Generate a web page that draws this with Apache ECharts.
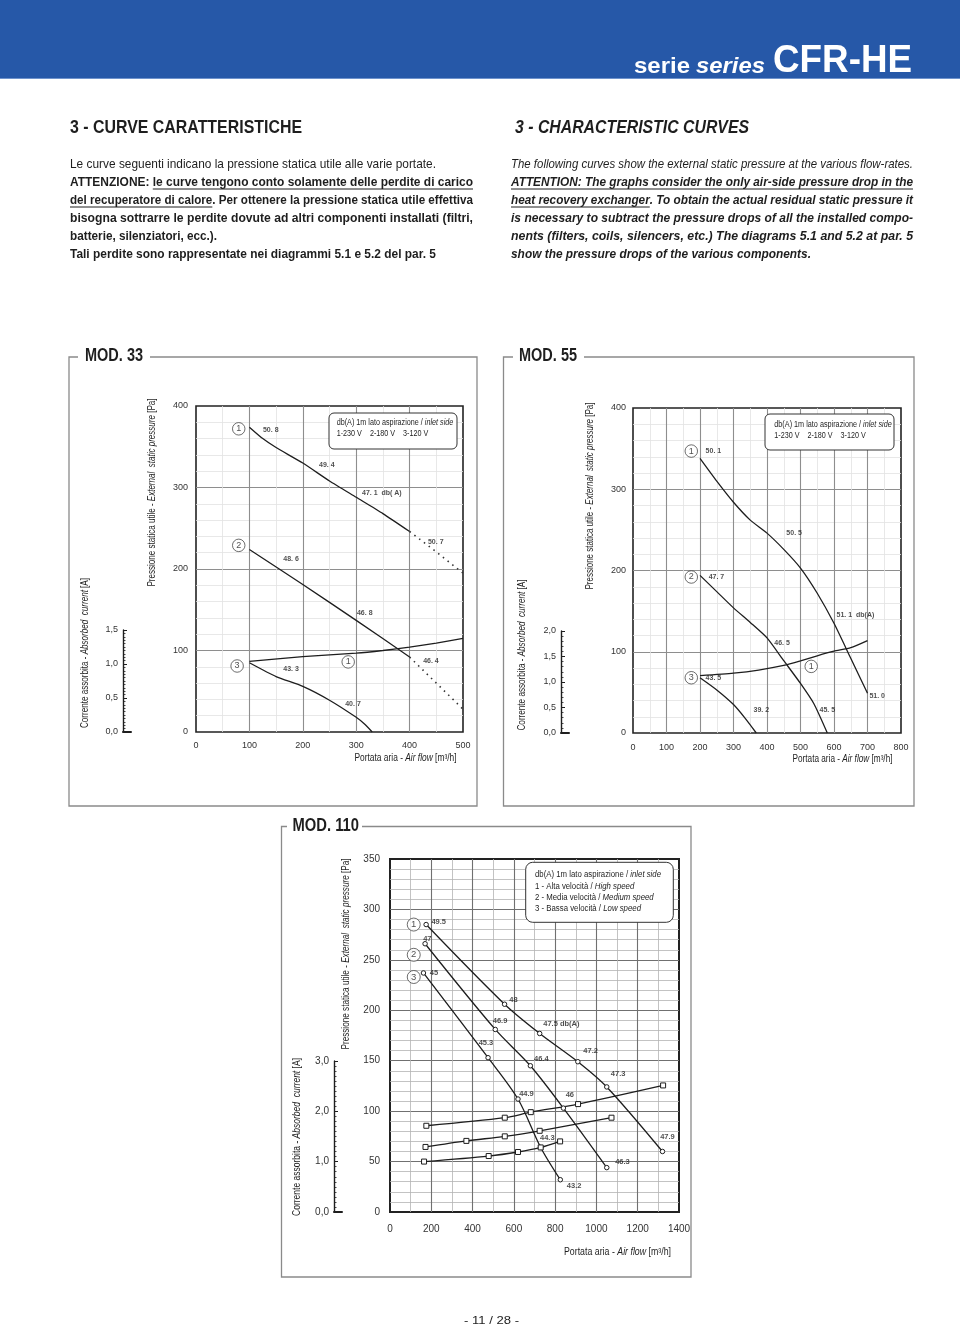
<!DOCTYPE html>
<html><head><meta charset="utf-8">
<script src="https://cdn.jsdelivr.net/npm/echarts@6/dist/echarts.min.js"></script>
<style>html,body{margin:0;padding:0;background:#fff}#c{width:960px;height:1326px}</style>
</head><body><div id="c"></div>
<script>
// ---------------- DATA ----------------
// MOD. 33  (flow m3/h, pressure Pa, current A)
const m33Flow1 = [100,125,150,200,250,300,350,400];
const m33Pres1 = [374,360,349,330,308,288,268,246];
const m33Flow1Ext = [400,450,500];
const m33Pres1Ext = [246,221,195];
const m33Flow2 = [100,200,300,400];
const m33Pres2 = [224,181,137,92];
const m33Flow2Ext = [400,500];
const m33Pres2Ext = [92,28];
const m33Flow3 = [100,150,200,250,300,315,330];
const m33Pres3 = [85,68,56,39,18,10,0];
const m33CurFlow = [100,200,300,350,400,450,500];
const m33CurAmp = [1.04,1.11,1.16,1.20,1.25,1.31,1.38];
const m33Noise = [[140,370,'50. 8'],[245,328,'49. 4'],[348,293,'47. 1  db( A)'],[449,233,'50. 7'],[178,212,'48. 6'],[316,146,'46. 8'],[440,87,'46. 4'],[178,77,'43. 3'],[294,34,'40. 7']];
const m33Tags = [[80,372,'1'],[80,229,'2'],[77,81,'3'],[285,86,'1']];

// MOD. 55
const m55Flow1 = [200,250,300,350,400,450,500,550,600,650,700];
const m55Pres1 = [338,310,284,262,246,226,203,172,135,92,49];
const m55Flow2 = [200,250,300,350,400,450,500,540,580];
const m55Pres2 = [194,174,154,136,117,89,61,36,0];
const m55Flow3 = [200,250,300,335,368];
const m55Pres3 = [68,53,35,18,0];
const m55CurFlow = [200,300,375,450,500,550,600,650,700];
const m55CurAmp = [1.13,1.18,1.24,1.33,1.42,1.52,1.61,1.68,1.82];
const m55Noise = [[240,347,'50. 1'],[481,246,'50. 5'],[249,192,'47. 7'],[664,145,'51. 1  db(A)'],[445,111,'46. 5'],[240,68,'43. 5'],[383,28,'39. 2'],[580,28,'45. 5'],[729,45,'51. 0']];
const m55Tags = [[174,347,'1'],[174,192,'2'],[174,68,'3'],[532,82,'1']];

// MOD. 110
const m110Flow1 = [175,555,725,910,1050,1320];
const m110Pres1 = [285,206,177,149,124,60];
const m110Flow2 = [170,510,680,840,1050];
const m110Pres2 = [266,181,145,103,44];
const m110Flow3 = [162,475,620,730,825];
const m110Pres3 = [237,153,112,64,32];
const m110CurFlow1 = [176,556,682,911,1323];
const m110CurAmp1 = [1.71,1.87,1.98,2.14,2.51];
const m110CurFlow2 = [172,370,556,725,1073];
const m110CurAmp2 = [1.29,1.41,1.50,1.61,1.87];
const m110CurFlow3 = [165,478,620,730,824];
const m110CurAmp3 = [1.00,1.11,1.19,1.28,1.40];
const m110Noise = [[236,288,'49.5'],[181,271,'47'],[213,237,'45'],[598,210,'48'],[533,189,'46.9'],[830,186,'47.5 db(A)'],[465,168,'45.3'],[972,160,'47.2'],[733,152,'46.4'],[1105,137,'47.3'],[661,117,'44.9'],[871,116,'46'],[762,73,'44.3'],[1344,74,'47.9'],[1126,50,'46.3'],[892,26,'43.2']];
const m110Tags = [[115,285,'1'],[115,255,'2'],[115,233,'3']];

// ---------------- HELPERS ----------------
const FF = "'Liberation Sans', Arial, Helvetica, sans-serif";
const INK = '#1e1e1e';
const zip = (xs, ys) => xs.map((x, i) => [x, ys[i]]);
const cv = document.createElement('canvas').getContext('2d');
function fontStr(o){ return (o.fontStyle||'normal')+' '+(o.fontWeight||'normal')+' '+o.fontSize+'px '+FF; }
function mw(t, o){ cv.font = fontStr(o); return cv.measureText(t).width; }
const B = {fontWeight:'bold'}, I = {fontStyle:'italic'}, BI = {fontWeight:'bold', fontStyle:'italic'};
function txt(x, y, segs, base, width, opt){
  opt = opt || {};
  if (typeof segs === 'string') segs = [{t: segs}];
  const rich = {}; let str = ''; let total = 0; const ws = [];
  segs.forEach((sg, i) => {
    const st = Object.assign({}, base, sg.s || {});
    const w = mw(sg.t, st); ws.push(w); total += w;
    rich['s'+i] = {fontSize: st.fontSize, fontFamily: FF, fontWeight: st.fontWeight||'normal', fontStyle: st.fontStyle||'normal', fill: opt.fill||INK};
    str += '{s'+i+'|'+sg.t+'}';
  });
  const sx = width ? width/total : 1;
  const out = [{type:'text', x:x, y:y, rotation: opt.rot||0, scaleX: sx, z:60, silent:true,
    style:{text:str, rich:rich, align: opt.align||'left', verticalAlign:'middle', fill: opt.fill||INK, fontSize: base.fontSize, fontFamily: FF}}];
  let cx = 0;
  segs.forEach((sg, i) => {
    if (sg.u) out.push({type:'line', z:60, silent:true, shape:{x1:x+cx*sx, y1:y+opt.uy, x2:x+(cx+ws[i])*sx, y2:y+opt.uy}, style:{stroke:INK, lineWidth:1}});
    cx += ws[i];
  });
  return out;
}

// ---------------- LAYOUT ----------------
const P33 = {left:196, top:406, width:267, height:326};
const C33 = {left:123, top:630, width:8, height:102};
const P55 = {left:633, top:408, width:268, height:325};
const C55 = {left:561, top:631, width:8, height:102};
const P110 = {left:390, top:859, width:289, height:353};
const C110 = {left:334, top:1061, width:8, height:151};

function gridOf(p, main, bw){ return Object.assign({show: main, borderColor:'#222', borderWidth: bw||1.6, backgroundColor: main ? '#fff' : 'transparent', containLabel:false}, p); }
function mainX(gi, max, interval, minor, fs, margin, maj, mnr){
  return {type:'value', gridIndex:gi, min:0, max:max, interval:interval,
    axisLine:{show:false}, axisTick:{show:false},
    axisLabel:{color:'#333', fontSize:fs, fontFamily:FF, margin:margin, formatter: v => String(v)},
    splitLine:{show:true, showMinLine:false, showMaxLine:false, lineStyle:{color:maj, width:1.1}},
    minorTick:{show:false, splitNumber:minor}, minorSplitLine:{show:true, lineStyle:{color:mnr, width:0.8}}};
}
function mainY(gi, max, interval, minor, fs, margin, maj, mnr){
  const a = mainX(gi, max, interval, minor, fs, margin, maj, mnr); a.position = 'left'; return a;
}
function hidY(gi, max){ return {type:'value', gridIndex:gi, min:0, max:max, show:false, position:'right'}; }
function curX(gi){ return {type:'value', gridIndex:gi, min:0, max:1, axisLine:{show:true, lineStyle:{color:INK, width:2}}, axisTick:{show:false}, axisLabel:{show:false}, splitLine:{show:false}}; }
function curY(gi, max, interval, minor, fs){
  return {type:'value', gridIndex:gi, min:0, max:max, interval:interval,
    axisLine:{show:true, lineStyle:{color:INK, width:1.4}},
    axisTick:{show:true, inside:true, length:4, lineStyle:{color:INK, width:1}},
    minorTick:{show:true, splitNumber:minor, length:2.5, lineStyle:{color:INK, width:0.8}},
    axisLabel:{color:'#333', fontSize:fs, fontFamily:FF, margin:5, formatter: v => v.toFixed(1).replace('.', ',')},
    splitLine:{show:false}};
}
function ln(xi, yi, data, extra){
  return Object.assign({type:'line', xAxisIndex:xi, yAxisIndex:yi, data:data, symbol:'none', smooth:0.2, silent:true, z:3,
    lineStyle:{color:INK, width:1.3}}, extra||{});
}
function dotted(xi, yi, data){ return ln(xi, yi, data, {smooth:false, lineStyle:{color:'#333', width:1.6, type:[1.5,4.5]}}); }
function marked(xi, yi, data, sym, size){
  return ln(xi, yi, data, {smooth:0.3, symbol:sym, symbolSize:size, showSymbol:true, showAllSymbol:true,
    itemStyle:{color:'#fff', borderColor:INK, borderWidth:1}});
}
function notes(xi, yi, arr, fs, bold){
  return {type:'scatter', xAxisIndex:xi, yAxisIndex:yi, silent:true, z:5, symbol:'circle', symbolSize:1,
    itemStyle:{color:'rgba(0,0,0,0)'},
    data: arr.map(n => ({value:[n[0], n[1]], name:n[2]})),
    label:{show:true, position:'inside', formatter:'{b}', fontSize:fs, fontWeight: bold ? 'bold' : 'normal', color:INK, fontFamily:FF}};
}
function tags(xi, yi, arr, size, fs){
  return {type:'scatter', xAxisIndex:xi, yAxisIndex:yi, silent:true, z:6, symbol:'circle', symbolSize:size,
    itemStyle:{color:'#fff', borderColor:'#333', borderWidth:0.9},
    data: arr.map(n => ({value:[n[0], n[1]], name:n[2]})),
    label:{show:true, position:'inside', formatter:'{b}', fontSize:fs, color:INK, fontFamily:FF}};
}

// ---------------- GRAPHIC (page texts, frames) ----------------
const G = [];
G.push({type:'rect', z:1, silent:true, shape:{x:0, y:0, width:960, height:78}, style:{fill:'#2658a8'}});
G.push({type:'line', z:2, silent:true, shape:{x1:0, y1:78.5, x2:960, y2:78.5}, style:{stroke:'#6f93cc', lineWidth:1}});
G.push(...txt(634, 67, [{t:'serie'}], {fontSize:22.5, fontWeight:'bold'}, 56, {fill:'#fff'}));
G.push(...txt(696, 67, [{t:'series'}], {fontSize:22.5, fontWeight:'bold', fontStyle:'italic'}, 69, {fill:'#fff'}));
G.push(...txt(773, 61.5, [{t:'CFR-HE'}], {fontSize:39.5, fontWeight:'bold'}, 139, {fill:'#fff'}));

G.push(...txt(70, 128.5, [{t:'3 - CURVE CARATTERISTICHE'}], {fontSize:17.5, fontWeight:'bold'}, 232));
G.push(...txt(515, 128.5, [{t:'3 - CHARACTERISTIC CURVES'}], {fontSize:17.5, fontWeight:'bold', fontStyle:'italic'}, 234));

const bodyL = {fontSize:13.5};
const UY = 7;
G.push(...txt(70, 164, [{t:'Le curve seguenti indicano la pressione statica utile alle varie portate.'}], bodyL, 366, {uy:UY}));
G.push(...txt(70, 182, [{t:'ATTENZIONE: ', s:B}, {t:'le curve tengono conto solamente delle perdite di carico', s:B, u:true}], bodyL, 403, {uy:UY}));
G.push(...txt(70, 200, [{t:'del recuperatore di calore', s:B, u:true}, {t:'. Per ottenere la pressione statica utile effettiva', s:B}], bodyL, 403, {uy:UY}));
G.push(...txt(70, 218, [{t:'bisogna sottrarre le perdite dovute ad altri componenti installati (filtri,', s:B}], bodyL, 403, {uy:UY}));
G.push(...txt(70, 236, [{t:'batterie, silenziatori, ecc.).', s:B}], bodyL, 147, {uy:UY}));
G.push(...txt(70, 254, [{t:'Tali perdite sono rappresentate nei diagrammi 5.1 e 5.2 del par. 5', s:B}], bodyL, 366, {uy:UY}));

const bodyR = {fontSize:13.5, fontStyle:'italic'};
G.push(...txt(511, 164, [{t:'The following curves show the external static pressure at the various flow-rates.'}], bodyR, 402, {uy:UY}));
G.push(...txt(511, 182, [{t:'ATTENTION: The graphs consider the only air-side pressure drop in the', s:BI, u:true}], bodyR, 402, {uy:UY}));
G.push(...txt(511, 200, [{t:'heat recovery exchanger', s:BI, u:true}, {t:'. To obtain the actual residual static pressure it', s:BI}], bodyR, 402, {uy:UY}));
G.push(...txt(511, 218, [{t:'is necessary to subtract the pressure drops of all the installed compo-', s:BI}], bodyR, 402, {uy:UY}));
G.push(...txt(511, 236, [{t:'nents (filters, coils, silencers, etc.) The diagrams 5.1 and 5.2 at par. 5', s:BI}], bodyR, 402, {uy:UY}));
G.push(...txt(511, 254, [{t:'show the pressure drops of the various components.', s:BI}], bodyR, 300, {uy:UY}));

// panel frames
const FR = {stroke:'#8a8a8a', lineWidth:1.3, fill:null};
G.push({type:'polyline', z:2, silent:true, shape:{points:[[78,357],[69,357],[69,806],[477,806],[477,357],[150,357]]}, style:FR});
G.push({type:'polyline', z:2, silent:true, shape:{points:[[513,357],[503.5,357],[503.5,806],[914,806],[914,357],[584,357]]}, style:FR});
G.push({type:'polyline', z:2, silent:true, shape:{points:[[287,826.5],[281.5,826.5],[281.5,1277],[691,1277],[691,826.5],[362,826.5]]}, style:FR});
G.push(...txt(85, 356.5, [{t:'MOD. 33'}], {fontSize:17.5, fontWeight:'bold'}, 58));
G.push(...txt(519, 356.5, [{t:'MOD. 55'}], {fontSize:17.5, fontWeight:'bold'}, 58));
G.push(...txt(292.5, 826.5, [{t:'MOD. 110'}], {fontSize:17.5, fontWeight:'bold'}, 66.5));

// axis titles
const AX = {fontSize:10};
const presName = [{t:'Pressione statica utile - '}, {t:'External  static pressure', s:I}, {t:' [Pa]'}];
const curName = [{t:'Corrente assorbita - '}, {t:'Absorbed  current', s:I}, {t:' [A]'}];
const flowName = [{t:'Portata aria - '}, {t:'Air flow', s:I}, {t:' [m³/h]'}];
const ROT = {rot:Math.PI/2, align:'center'};
G.push(...txt(152, 492.5, presName, AX, 188, ROT));
G.push(...txt(85, 653, curName, AX, 150, ROT));
G.push(...txt(590, 496, presName, AX, 187, ROT));
G.push(...txt(522.5, 655, curName, AX, 151, ROT));
G.push(...txt(346.5, 954, presName, AX, 191, ROT));
G.push(...txt(297.5, 1137, curName, AX, 158, ROT));
G.push(...txt(405.5, 758, flowName, AX, 102, {align:'center'}));
G.push(...txt(842.5, 759, flowName, AX, 100, {align:'center'}));
G.push(...txt(617.5, 1252.5, flowName, AX, 107, {align:'center'}));

// legend boxes
const LB = {fill:'#fff', stroke:'#333', lineWidth:1};
const LG = {fontSize:8.5};
G.push({type:'rect', z:50, silent:true, shape:{x:329, y:413, width:128, height:36, r:5}, style:LB});
G.push(...txt(336.7, 422.5, [{t:'db(A) 1m lato aspirazione / '}, {t:'inlet side', s:I}], LG, 116.6));
G.push(...txt(336.7, 434, [{t:'1-230 V    2-180 V    3-120 V'}], LG, 91.6));
G.push({type:'rect', z:50, silent:true, shape:{x:765, y:414, width:129, height:36, r:5}, style:LB});
G.push(...txt(774.3, 424.3, [{t:'db(A) 1m lato aspirazione / '}, {t:'inlet side', s:I}], LG, 117.4));
G.push(...txt(774.3, 435.7, [{t:'1-230 V    2-180 V    3-120 V'}], LG, 91.4));
G.push({type:'rect', z:50, silent:true, shape:{x:525.7, y:862.3, width:147.6, height:60, r:7}, style:LB});
G.push(...txt(535, 875, [{t:'db(A) 1m lato aspirazione / '}, {t:'inlet side', s:I}], LG, 126));
G.push(...txt(535, 886.3, [{t:'1 - Alta velocità / '}, {t:'High speed', s:I}], LG, 99.3));
G.push(...txt(535, 897.7, [{t:'2 - Media velocità / '}, {t:'Medium speed', s:I}], LG, 118.7));
G.push(...txt(535, 909, [{t:'3 - Bassa velocità / '}, {t:'Low speed', s:I}], LG, 106));

G.push(...txt(491.5, 1321, [{t:'- 11 / 28 -'}], {fontSize:11}, 55, {align:'center'}));

// ---------------- CHART ----------------
const chart = echarts.init(document.getElementById('c'), null, {renderer:'canvas'});
const MAJ = '#8e8e8e', MNR = '#e2e2e2';
chart.setOption({
  animation:false,
  backgroundColor:'#fff',
  grid:[gridOf(P33, true), gridOf(C33, false), gridOf(P55, true), gridOf(C55, false), gridOf(P110, true, 2), gridOf(C110, false)],
  xAxis:[
    mainX(0, 500, 100, 2, 9, 9.5, MAJ, MNR), curX(1),
    mainX(2, 800, 100, 2, 9, 10.5, MAJ, MNR), curX(3),
    mainX(4, 1400, 200, 2, 10, 12, '#707070', '#b4b4b4'), curX(5)
  ],
  yAxis:[
    mainY(0, 400, 100, 5, 9, 8, MAJ, MNR), hidY(0, 4.8), curY(1, 1.5, 0.5, 10, 9),
    mainY(2, 400, 100, 5, 9, 7, MAJ, MNR), hidY(2, 6.4), curY(3, 2, 0.5, 5, 9),
    mainY(4, 350, 50, 5, 10, 10, '#707070', '#b4b4b4'), hidY(4, 7), curY(5, 3, 1, 10, 10)
  ],
  series:[
    ln(0, 0, zip(m33Flow1, m33Pres1)),
    dotted(0, 0, zip(m33Flow1Ext, m33Pres1Ext)),
    ln(0, 0, zip(m33Flow2, m33Pres2)),
    dotted(0, 0, zip(m33Flow2Ext, m33Pres2Ext)),
    ln(0, 0, zip(m33Flow3, m33Pres3)),
    ln(0, 1, zip(m33CurFlow, m33CurAmp)),
    notes(0, 0, m33Noise, 7, true),
    tags(0, 0, m33Tags, 12.5, 9),

    ln(2, 3, zip(m55Flow1, m55Pres1)),
    ln(2, 3, zip(m55Flow2, m55Pres2)),
    ln(2, 3, zip(m55Flow3, m55Pres3)),
    ln(2, 4, zip(m55CurFlow, m55CurAmp)),
    notes(2, 3, m55Noise, 7, true),
    tags(2, 3, m55Tags, 12.5, 9),

    marked(4, 6, zip(m110Flow1, m110Pres1), 'circle', 4.5),
    marked(4, 6, zip(m110Flow2, m110Pres2), 'circle', 4.5),
    marked(4, 6, zip(m110Flow3, m110Pres3), 'circle', 4.5),
    marked(4, 7, zip(m110CurFlow1, m110CurAmp1), 'rect', 5),
    marked(4, 7, zip(m110CurFlow2, m110CurAmp2), 'rect', 5),
    marked(4, 7, zip(m110CurFlow3, m110CurAmp3), 'rect', 5),
    notes(4, 6, m110Noise, 7.5, true),
    tags(4, 6, m110Tags, 13, 9.5)
  ],
  graphic:{elements:G}
});
</script></body></html>
